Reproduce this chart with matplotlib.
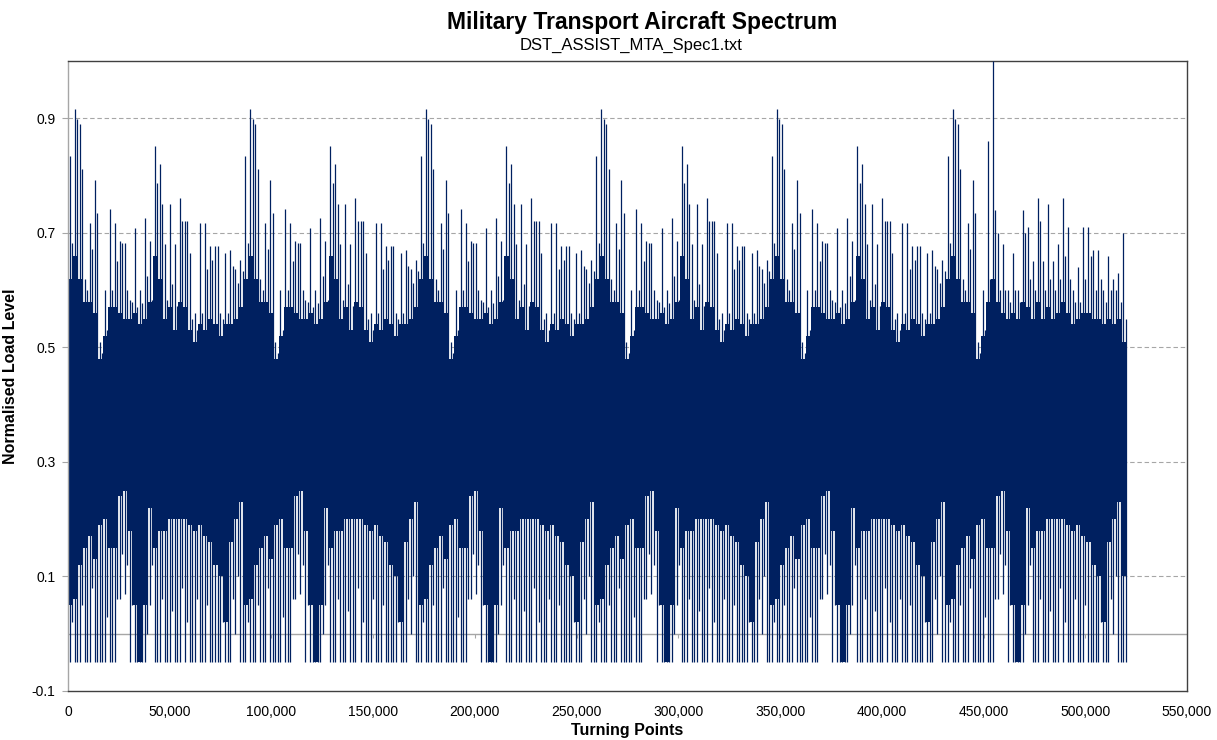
import matplotlib
matplotlib.use("Agg")
import matplotlib.pyplot as plt
import numpy as np

# Envelope of the turning-point sequence in bins of
# BIN turning points (one repeated flight block is about 35 bins wide).
BIN = 2466

# highest value reached in each bin (spike tops)
hi_max = [
    # block 1
    0.834, 0.916, 0.89, 0.62, 0.717, 0.793, 0.51, 0.60, 0.741, 0.717, 0.685, 0.683, 0.583, 0.709, 0.60, 0.726, 0.685,
    0.852, 0.82, 0.68, 0.75, 0.68, 0.761, 0.72, 0.665, 0.56, 0.717, 0.717, 0.677, 0.677, 0.56, 0.665, 0.67, 0.636, 0.653,
    # block 2
    0.834, 0.916, 0.89, 0.62, 0.717, 0.793, 0.51, 0.60, 0.741, 0.717, 0.685, 0.683, 0.583, 0.709, 0.60, 0.726, 0.685,
    0.852, 0.82, 0.68, 0.75, 0.68, 0.761, 0.72, 0.665, 0.56, 0.717, 0.717, 0.677, 0.677, 0.56, 0.665, 0.67, 0.636, 0.653,
    # block 3
    0.834, 0.916, 0.89, 0.62, 0.717, 0.793, 0.51, 0.60, 0.741, 0.717, 0.685, 0.683, 0.583, 0.709, 0.60, 0.726, 0.685,
    0.852, 0.82, 0.68, 0.75, 0.68, 0.761, 0.72, 0.665, 0.56, 0.717, 0.717, 0.677, 0.677, 0.56, 0.665, 0.67, 0.636, 0.653,
    # block 4
    0.834, 0.916, 0.89, 0.62, 0.717, 0.793, 0.51, 0.60, 0.741, 0.717, 0.685, 0.683, 0.583, 0.709, 0.60, 0.726, 0.685,
    0.852, 0.82, 0.68, 0.75, 0.68, 0.761, 0.72, 0.665, 0.56, 0.717, 0.717, 0.677, 0.677, 0.56, 0.665, 0.67, 0.636, 0.653,
    # block 5
    0.834, 0.916, 0.89, 0.62, 0.717, 0.793, 0.51, 0.60, 0.741, 0.717, 0.685, 0.683, 0.583, 0.709, 0.60, 0.726, 0.685,
    0.852, 0.82, 0.68, 0.75, 0.68, 0.761, 0.72, 0.665, 0.56, 0.717, 0.717, 0.677, 0.677, 0.56, 0.665, 0.67, 0.636, 0.653,
    # block 6 (contains the 1.0 peak)
    0.834, 0.916, 0.89, 0.62, 0.717, 0.793, 0.51, 0.60, 0.86, 1.0, 0.70, 0.68, 0.60, 0.665, 0.60, 0.74, 0.71,
    0.65, 0.761, 0.65, 0.75, 0.65, 0.68, 0.761, 0.71, 0.60, 0.64, 0.71, 0.71, 0.67, 0.67, 0.60, 0.66, 0.62, 0.63,
    # end
    0.70,
]

# second highest spike in each bin
hi_second = [
    0.683, 0.898, 0.811, 0.60, 0.671, 0.735, 0.49, 0.53, 0.60, 0.65, 0.683, 0.60, 0.58, 0.57, 0.578, 0.624, 0.583,
    0.787, 0.75, 0.583, 0.61, 0.572, 0.72, 0.72, 0.55, 0.53, 0.56, 0.636, 0.653, 0.677, 0.55, 0.56, 0.642, 0.613, 0.633,
    0.683, 0.898, 0.811, 0.60, 0.671, 0.735, 0.49, 0.53, 0.60, 0.65, 0.683, 0.60, 0.58, 0.57, 0.578, 0.624, 0.583,
    0.787, 0.75, 0.583, 0.61, 0.572, 0.72, 0.72, 0.55, 0.53, 0.56, 0.636, 0.653, 0.677, 0.55, 0.56, 0.642, 0.613, 0.633,
    0.683, 0.898, 0.811, 0.60, 0.671, 0.735, 0.49, 0.53, 0.60, 0.65, 0.683, 0.60, 0.58, 0.57, 0.578, 0.624, 0.583,
    0.787, 0.75, 0.583, 0.61, 0.572, 0.72, 0.72, 0.55, 0.53, 0.56, 0.636, 0.653, 0.677, 0.55, 0.56, 0.642, 0.613, 0.633,
    0.683, 0.898, 0.811, 0.60, 0.671, 0.735, 0.49, 0.53, 0.60, 0.65, 0.683, 0.60, 0.58, 0.57, 0.578, 0.624, 0.583,
    0.787, 0.75, 0.583, 0.61, 0.572, 0.72, 0.72, 0.55, 0.53, 0.56, 0.636, 0.653, 0.677, 0.55, 0.56, 0.642, 0.613, 0.633,
    0.683, 0.898, 0.811, 0.60, 0.671, 0.735, 0.49, 0.53, 0.60, 0.65, 0.683, 0.60, 0.58, 0.57, 0.578, 0.624, 0.583,
    0.787, 0.75, 0.583, 0.61, 0.572, 0.72, 0.72, 0.55, 0.53, 0.56, 0.636, 0.653, 0.677, 0.55, 0.56, 0.642, 0.613, 0.633,
    0.683, 0.898, 0.811, 0.60, 0.671, 0.735, 0.49, 0.53, 0.62, 0.74, 0.60, 0.60, 0.58, 0.60, 0.58, 0.70, 0.62,
    0.60, 0.72, 0.60, 0.62, 0.60, 0.62, 0.66, 0.62, 0.58, 0.58, 0.62, 0.66, 0.60, 0.62, 0.58, 0.60, 0.60, 0.58,
    0.55,
]

# level up to which the band is solid (below the spikes)
hi_base = [
    0.62, 0.66, 0.62, 0.58, 0.58, 0.56, 0.48, 0.52, 0.57, 0.57, 0.56, 0.55, 0.55, 0.56, 0.54, 0.55, 0.58,
    0.66, 0.62, 0.55, 0.57, 0.53, 0.58, 0.57, 0.53, 0.51, 0.54, 0.53, 0.55, 0.54, 0.52, 0.54, 0.54, 0.55, 0.57,
    0.62, 0.66, 0.62, 0.58, 0.58, 0.56, 0.48, 0.52, 0.57, 0.57, 0.56, 0.55, 0.55, 0.56, 0.54, 0.55, 0.58,
    0.66, 0.62, 0.55, 0.57, 0.53, 0.58, 0.57, 0.53, 0.51, 0.54, 0.53, 0.55, 0.54, 0.52, 0.54, 0.54, 0.55, 0.57,
    0.62, 0.66, 0.62, 0.58, 0.58, 0.56, 0.48, 0.52, 0.57, 0.57, 0.56, 0.55, 0.55, 0.56, 0.54, 0.55, 0.58,
    0.66, 0.62, 0.55, 0.57, 0.53, 0.58, 0.57, 0.53, 0.51, 0.54, 0.53, 0.55, 0.54, 0.52, 0.54, 0.54, 0.55, 0.57,
    0.62, 0.66, 0.62, 0.58, 0.58, 0.56, 0.48, 0.52, 0.57, 0.57, 0.56, 0.55, 0.55, 0.56, 0.54, 0.55, 0.58,
    0.66, 0.62, 0.55, 0.57, 0.53, 0.58, 0.57, 0.53, 0.51, 0.54, 0.53, 0.55, 0.54, 0.52, 0.54, 0.54, 0.55, 0.57,
    0.62, 0.66, 0.62, 0.58, 0.58, 0.56, 0.48, 0.52, 0.57, 0.57, 0.56, 0.55, 0.55, 0.56, 0.54, 0.55, 0.58,
    0.66, 0.62, 0.55, 0.57, 0.53, 0.58, 0.57, 0.53, 0.51, 0.54, 0.53, 0.55, 0.54, 0.52, 0.54, 0.54, 0.55, 0.57,
    0.62, 0.66, 0.62, 0.58, 0.58, 0.56, 0.48, 0.52, 0.58, 0.62, 0.58, 0.56, 0.55, 0.56, 0.55, 0.58, 0.57,
    0.55, 0.58, 0.55, 0.57, 0.55, 0.56, 0.58, 0.56, 0.54, 0.55, 0.56, 0.56, 0.55, 0.55, 0.54, 0.55, 0.54, 0.55,
    0.51,
]

# level down to which the band is solid (above the downward spikes)
lo_base = [
    0.05, 0.06, 0.12, 0.15, 0.17, 0.13, 0.19, 0.20, 0.15, 0.15, 0.24, 0.25, 0.18, 0.05, -0.05, 0.05, 0.22,
    0.15, 0.18, 0.18, 0.20, 0.20, 0.20, 0.20, 0.19, 0.18, 0.19, 0.17, 0.16, 0.12, 0.10, 0.02, 0.16, 0.20, 0.23,
    0.05, 0.06, 0.12, 0.15, 0.17, 0.13, 0.19, 0.20, 0.15, 0.15, 0.24, 0.25, 0.18, 0.05, -0.05, 0.05, 0.22,
    0.15, 0.18, 0.18, 0.20, 0.20, 0.20, 0.20, 0.19, 0.18, 0.19, 0.17, 0.16, 0.12, 0.10, 0.02, 0.16, 0.20, 0.23,
    0.05, 0.06, 0.12, 0.15, 0.17, 0.13, 0.19, 0.20, 0.15, 0.15, 0.24, 0.25, 0.18, 0.05, -0.05, 0.05, 0.22,
    0.15, 0.18, 0.18, 0.20, 0.20, 0.20, 0.20, 0.19, 0.18, 0.19, 0.17, 0.16, 0.12, 0.10, 0.02, 0.16, 0.20, 0.23,
    0.05, 0.06, 0.12, 0.15, 0.17, 0.13, 0.19, 0.20, 0.15, 0.15, 0.24, 0.25, 0.18, 0.05, -0.05, 0.05, 0.22,
    0.15, 0.18, 0.18, 0.20, 0.20, 0.20, 0.20, 0.19, 0.18, 0.19, 0.17, 0.16, 0.12, 0.10, 0.02, 0.16, 0.20, 0.23,
    0.05, 0.06, 0.12, 0.15, 0.17, 0.13, 0.19, 0.20, 0.15, 0.15, 0.24, 0.25, 0.18, 0.05, -0.05, 0.05, 0.22,
    0.15, 0.18, 0.18, 0.20, 0.20, 0.20, 0.20, 0.19, 0.18, 0.19, 0.17, 0.16, 0.12, 0.10, 0.02, 0.16, 0.20, 0.23,
    0.05, 0.06, 0.12, 0.15, 0.17, 0.13, 0.19, 0.20, 0.15, 0.15, 0.24, 0.25, 0.18, 0.05, -0.05, 0.05, 0.22,
    0.15, 0.18, 0.18, 0.20, 0.20, 0.20, 0.20, 0.19, 0.18, 0.19, 0.17, 0.16, 0.12, 0.10, 0.02, 0.16, 0.20, 0.23,
    0.10,
]

# lowest value reached in each bin (downward spikes, floor at -0.05)
lo_min = [
    -0.05, -0.05, -0.05, -0.05, -0.05, -0.05, -0.05, -0.05, -0.05, -0.05, 0.06, 0.07, -0.05, -0.05, -0.05, -0.05, 0.05,
    -0.05, -0.05, -0.05, -0.05, -0.05, -0.05, -0.05, -0.05, -0.05, -0.05, -0.05, -0.05, -0.05, -0.05, -0.05, -0.05, 0.00, -0.05,
    -0.05, -0.05, -0.05, -0.05, -0.05, -0.05, -0.05, -0.05, -0.05, -0.05, 0.06, 0.07, -0.05, -0.05, -0.05, -0.05, 0.05,
    -0.05, -0.05, -0.05, -0.05, -0.05, -0.05, -0.05, -0.05, -0.05, -0.05, -0.05, -0.05, -0.05, -0.05, -0.05, -0.05, 0.00, -0.05,
    -0.05, -0.05, -0.05, -0.05, -0.05, -0.05, -0.05, -0.05, -0.05, -0.05, 0.06, 0.07, -0.05, -0.05, -0.05, -0.05, 0.05,
    -0.05, -0.05, -0.05, -0.05, -0.05, -0.05, -0.05, -0.05, -0.05, -0.05, -0.05, -0.05, -0.05, -0.05, -0.05, -0.05, 0.00, -0.05,
    -0.05, -0.05, -0.05, -0.05, -0.05, -0.05, -0.05, -0.05, -0.05, -0.05, 0.06, 0.07, -0.05, -0.05, -0.05, -0.05, 0.05,
    -0.05, -0.05, -0.05, -0.05, -0.05, -0.05, -0.05, -0.05, -0.05, -0.05, -0.05, -0.05, -0.05, -0.05, -0.05, -0.05, 0.00, -0.05,
    -0.05, -0.05, -0.05, -0.05, -0.05, -0.05, -0.05, -0.05, -0.05, -0.05, 0.06, 0.07, -0.05, -0.05, -0.05, -0.05, 0.05,
    -0.05, -0.05, -0.05, -0.05, -0.05, -0.05, -0.05, -0.05, -0.05, -0.05, -0.05, -0.05, -0.05, -0.05, -0.05, -0.05, 0.00, -0.05,
    -0.05, -0.05, -0.05, -0.05, -0.05, -0.05, -0.05, -0.05, -0.05, -0.05, 0.06, 0.07, -0.05, -0.05, -0.05, -0.05, 0.05,
    -0.05, -0.05, -0.05, -0.05, -0.05, -0.05, -0.05, -0.05, -0.05, -0.05, -0.05, -0.05, -0.05, -0.05, -0.05, -0.05, 0.00, -0.05,
    -0.05,
]

# second deepest downward spike in each bin
lo_second = [
    0.02, -0.05, 0.05, -0.05, 0.08, -0.05, -0.05, 0.03, -0.05, 0.06, 0.14, 0.12, 0.05, -0.05, -0.05, 0.00, 0.12,
    -0.05, 0.06, -0.05, 0.04, -0.05, 0.08, 0.02, -0.05, 0.06, -0.05, 0.05, -0.05, -0.05, 0.02, -0.05, 0.06, 0.10, -0.05,
    0.02, -0.05, 0.05, -0.05, 0.08, -0.05, -0.05, 0.03, -0.05, 0.06, 0.14, 0.12, 0.05, -0.05, -0.05, 0.00, 0.12,
    -0.05, 0.06, -0.05, 0.04, -0.05, 0.08, 0.02, -0.05, 0.06, -0.05, 0.05, -0.05, -0.05, 0.02, -0.05, 0.06, 0.10, -0.05,
    0.02, -0.05, 0.05, -0.05, 0.08, -0.05, -0.05, 0.03, -0.05, 0.06, 0.14, 0.12, 0.05, -0.05, -0.05, 0.00, 0.12,
    -0.05, 0.06, -0.05, 0.04, -0.05, 0.08, 0.02, -0.05, 0.06, -0.05, 0.05, -0.05, -0.05, 0.02, -0.05, 0.06, 0.10, -0.05,
    0.02, -0.05, 0.05, -0.05, 0.08, -0.05, -0.05, 0.03, -0.05, 0.06, 0.14, 0.12, 0.05, -0.05, -0.05, 0.00, 0.12,
    -0.05, 0.06, -0.05, 0.04, -0.05, 0.08, 0.02, -0.05, 0.06, -0.05, 0.05, -0.05, -0.05, 0.02, -0.05, 0.06, 0.10, -0.05,
    0.02, -0.05, 0.05, -0.05, 0.08, -0.05, -0.05, 0.03, -0.05, 0.06, 0.14, 0.12, 0.05, -0.05, -0.05, 0.00, 0.12,
    -0.05, 0.06, -0.05, 0.04, -0.05, 0.08, 0.02, -0.05, 0.06, -0.05, 0.05, -0.05, -0.05, 0.02, -0.05, 0.06, 0.10, -0.05,
    0.02, -0.05, 0.05, -0.05, 0.08, -0.05, -0.05, 0.03, -0.05, 0.06, 0.14, 0.12, 0.05, -0.05, -0.05, 0.00, 0.12,
    -0.05, 0.06, -0.05, 0.04, -0.05, 0.08, 0.02, -0.05, 0.06, -0.05, 0.05, -0.05, -0.05, 0.02, -0.05, 0.06, 0.10, -0.05,
    -0.05,
]

x_ticks = [0, 50000, 100000, 150000, 200000, 250000, 300000, 350000, 400000, 450000, 500000, 550000]
y_ticks = [-0.1, 0.1, 0.3, 0.5, 0.7, 0.9]

NAVY = "#002060"

plt.rcParams["font.family"] = ["Liberation Sans Narrow", "Liberation Sans", "DejaVu Sans"]

fig = plt.figure(figsize=(12.17, 7.40), dpi=100)
ax = fig.add_axes([68 / 1217, 49 / 740, 1119 / 1217, 630 / 740])

n = len(hi_max)
edges = np.arange(n + 1) * BIN

# gridlines and the zero line sit behind the data
for y in y_ticks[1:]:
    ax.axhline(y, color="#A6A6A6", lw=0.8, ls=(0, (4, 2.5)), zorder=0)
ax.axhline(0, color="#A6A6A6", lw=1.0, zorder=0.5)
ax.vlines(x_ticks[1:-1], -0.008, 0, color="#A6A6A6", lw=0.8, zorder=0.5)

# solid core of the band, then the individual spikes on top
ax.stairs(np.array(hi_base), edges, baseline=np.array(lo_base), fill=True,
          color=NAVY, lw=0, zorder=2)
ax.vlines(edges[:-1] + 0.3 * BIN, lo_min, hi_max, color=NAVY, lw=0.9, zorder=3)
ax.vlines(edges[:-1] + 0.8 * BIN, lo_second, hi_second, color=NAVY, lw=0.9, zorder=3)

ax.set_xlim(0, 550000)
ax.set_ylim(-0.1, 1.0)
ax.set_xticks(x_ticks)
ax.set_xticklabels([f"{v:,}" for v in x_ticks])
ax.set_yticks(y_ticks)
ax.set_yticklabels([f"{v:.1f}" for v in y_ticks])
ax.tick_params(axis="x", length=0, pad=10, labelsize=10)
ax.tick_params(axis="y", length=4, width=0.8, color="#A6A6A6", pad=5, labelsize=10)

for side in ["top", "right", "bottom"]:
    ax.spines[side].set_color("#404040")
    ax.spines[side].set_linewidth(1.0)
ax.spines["left"].set_color("#A6A6A6")
ax.spines["left"].set_linewidth(1.0)

ax.set_xlabel("Turning Points", fontsize=11.5, fontweight="bold")
ax.xaxis.set_label_coords(0.5, -0.05)
ax.set_ylabel("Normalised Load Level", fontsize=11.5, fontweight="bold")
ax.yaxis.set_label_coords(-0.045, 0.5)

fig.text(642 / 1217, 1 - 22 / 740, "Military Transport Aircraft Spectrum",
         ha="center", va="center", fontsize=16.5, fontweight="bold")
fig.text(631 / 1217, 1 - 45 / 740, "DST_ASSIST_MTA_Spec1.txt",
         ha="center", va="center", fontsize=12, family=["Liberation Sans", "DejaVu Sans"])

fig.savefig("out.png", dpi=100)
